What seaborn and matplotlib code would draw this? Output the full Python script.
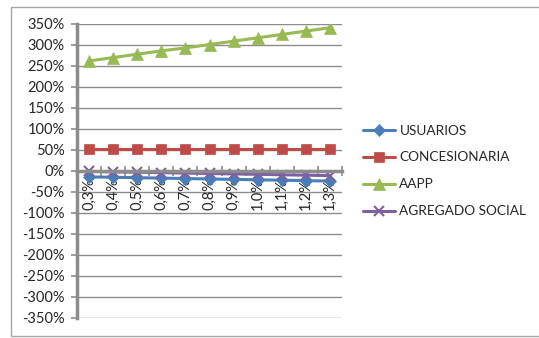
import matplotlib
matplotlib.use("Agg")
import matplotlib.pyplot as plt
import matplotlib.patches as mpatches
from matplotlib.ticker import FixedLocator, FuncFormatter
import numpy as np
import pandas as pd
import seaborn as sns

# Data (values in %)
tasas = ["0,3%", "0,4%", "0,5%", "0,6%", "0,7%", "0,8%", "0,9%", "1,0%", "1,1%", "1,2%", "1,3%"]
usuarios = [-14, -15, -16, -17, -18, -19, -20, -21, -22, -23, -24]
concesionaria = [52, 52, 52, 52, 52, 52, 52, 52, 52, 52, 52]
aapp = [262, 270, 278, 286, 293, 301, 309, 317, 325, 333, 341]
agregado = [-1, -2, -3, -4, -5, -6, -7, -8, -9, -10, -11]

series = ["USUARIOS", "CONCESIONARIA", "AAPP", "AGREGADO SOCIAL"]
colors = ["#4A7EBB", "#BE4B48", "#98B954", "#7D60A0"]
markers = ["D", "s", "^", "x"]
msizes = [6, 7.5, 8, 7]

df = pd.concat([
    pd.DataFrame({"tasa": tasas, "valor": vals, "serie": name})
    for name, vals in zip(series, [usuarios, concesionaria, aapp, agregado])
], ignore_index=True)
df["pos"] = df["tasa"].map({t: i for i, t in enumerate(tasas)})

sns.set_style("white")
plt.rcParams["font.family"] = ["Lato", "DejaVu Sans"]

fig = plt.figure(figsize=(5.39, 3.38), dpi=100)
ax = fig.add_axes([0.1429, 0.0592, 0.4916, 0.8699])

grid_c = "#8C8C8C"
for name, col, mk, ms in zip(series, colors, markers, msizes):
    sub = df[df["serie"] == name]
    sns.lineplot(data=sub, x="pos", y="valor", ax=ax, color=col, marker=mk,
                 markersize=ms, markeredgecolor=col, markeredgewidth=1.5 if mk == "x" else 0.5,
                 linewidth=2.2, label=name)

ax.set_xlim(-0.5, len(tasas) - 0.5)
ax.set_ylim(-350, 350)
ax.set_xlabel("")
ax.set_ylabel("")

# y axis
ax.yaxis.set_major_locator(FixedLocator(np.arange(-350, 351, 50)))
ax.yaxis.set_major_formatter(FuncFormatter(lambda v, p: f"{int(v)}%"))
ax.grid(axis="y", color=grid_c, linewidth=1.0, zorder=0)
ax.set_axisbelow(True)
ax.tick_params(axis="y", which="major", direction="out", length=4, width=1.2,
               color=grid_c, labelsize=10.5, pad=5, left=True)

# category axis crossing at 0
ax.spines["bottom"].set_position(("data", 0))
for s in ["top", "right"]:
    ax.spines[s].set_visible(False)
for s in ["left", "bottom"]:
    ax.spines[s].set_color(grid_c)
    ax.spines[s].set_linewidth(2.5)
ax.xaxis.set_major_locator(FixedLocator(range(len(tasas))))
ax.set_xticklabels(tasas, rotation=90)
ax.xaxis.set_minor_locator(FixedLocator(np.arange(-0.5, len(tasas), 1.0)))
ax.tick_params(axis="x", which="major", length=0, labelsize=10.5, pad=5, bottom=True)
ax.tick_params(axis="x", which="minor", direction="inout", length=7, width=1.2,
               color=grid_c, bottom=True)
ax.xaxis.set_zorder(1.5)
for lbl in ax.get_xticklabels():
    lbl.set_va("top")
    lbl.set_ha("center")

# legend
leg = ax.legend(loc="center left", bbox_to_anchor=(1.06, 0.5), frameon=False,
                fontsize=9.8, handlelength=2.35, handletextpad=0.3, labelspacing=1.1,
                borderaxespad=0)
for h in leg.legend_handles:
    h.set_linewidth(2.2)

# outer chart border
fig.patches.append(mpatches.Rectangle((11 / 539, 2 / 338), 1.0, 1 - 9 / 338,
                                      transform=fig.transFigure, fill=False,
                                      edgecolor="#A6A6A6", linewidth=1.0))

fig.savefig("out.png", dpi=100)
